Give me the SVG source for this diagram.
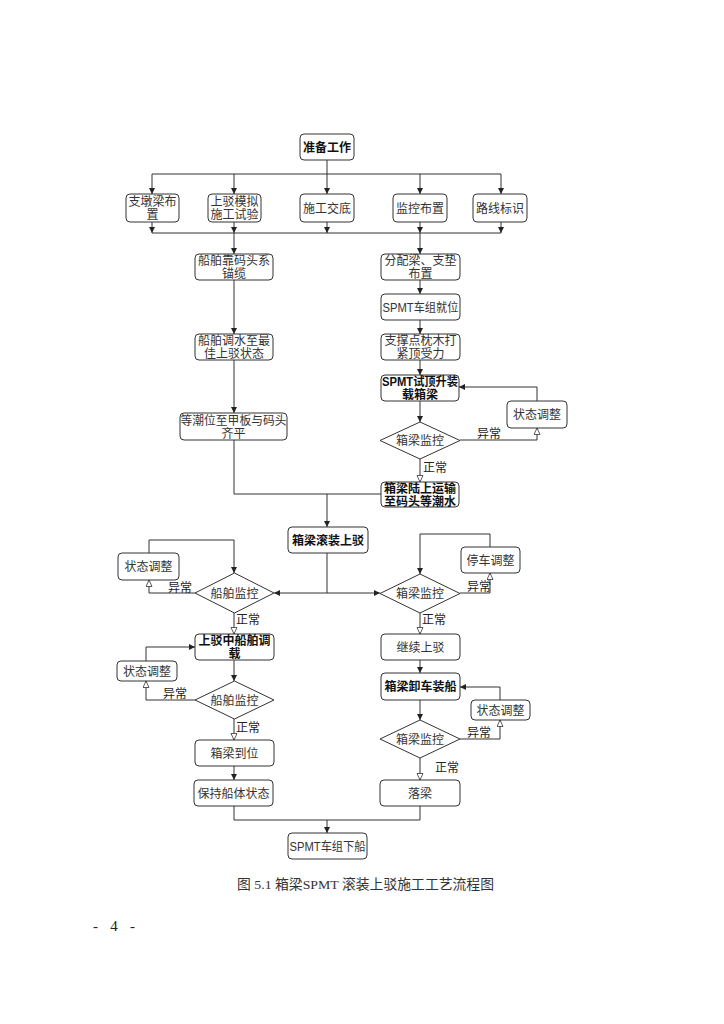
<svg xmlns="http://www.w3.org/2000/svg" width="724" height="1024" viewBox="0 0 724 1024">
<style>
.b{fill:#fff;stroke:#333;stroke-width:1}
.t{font-family:"Liberation Sans","Noto Sans CJK SC",sans-serif;font-size:12px;fill:#333;text-anchor:middle}
.tb{font-family:"Liberation Sans","Noto Sans CJK SC",sans-serif;font-size:12px;fill:#111;font-weight:bold;text-anchor:middle}
.l{font-family:"Liberation Sans","Noto Sans CJK SC",sans-serif;font-size:12px;fill:#222}
.c{fill:none;stroke:#333;stroke-width:1}
.f{marker-end:url(#af)}
.h{marker-end:url(#ah)}
</style>
<defs>
<marker id="af" markerUnits="userSpaceOnUse" markerWidth="8" markerHeight="8" refX="6" refY="3" orient="auto"><path d="M0,0 L6,3 L0,6 z" fill="#222"/></marker>
<marker id="ah" markerUnits="userSpaceOnUse" markerWidth="9" markerHeight="9" refX="7" refY="3.5" orient="auto"><path d="M0.5,0.5 L7,3.5 L0.5,6.5 z" fill="#fff" stroke="#333" stroke-width="0.8"/></marker>
</defs>
<rect width="724" height="1024" fill="#fff"/>

<g id="connectors">
<path class="c" d="M327,160 V174 M152,174 H501"/>
<path class="c f" d="M152,174 V194"/>
<path class="c f" d="M234,174 V194"/>
<path class="c f" d="M327,174 V194"/>
<path class="c f" d="M420,174 V194"/>
<path class="c f" d="M501,174 V194"/>
<path class="c f" d="M152,222 V233"/>
<path class="c f" d="M234,222 V233"/>
<path class="c f" d="M327,222 V233"/>
<path class="c f" d="M420,222 V233"/>
<path class="c f" d="M501,222 V233"/>
<path class="c" d="M152,233 H501"/>
<path class="c f" d="M234,233 V254"/>
<path class="c f" d="M420,233 V254"/>
<path class="c f" d="M234,280 V334"/>
<path class="c f" d="M234,360 V413"/>
<path class="c" d="M234,440 V494 H381"/>
<path class="c f" d="M327,494 V527"/>
<path class="c f" d="M420,280 V294"/>
<path class="c f" d="M420,320 V334"/>
<path class="c f" d="M420,360 V375"/>
<path class="c f" d="M420,401 V422"/>
<path class="c h" d="M460,440 H537 V428"/>
<path class="c f" d="M537,401 V387 H459"/>
<path class="c h" d="M420,459 V482"/>
<path class="c" d="M327,553 V593"/>
<path class="c f" d="M327,593 H274"/>
<path class="c f" d="M327,593 H380"/>
<path class="c h" d="M195,593 H149 V580"/>
<path class="c f" d="M149,553 V540 H234 V573"/>
<path class="c h" d="M234,613 V634"/>
<path class="c f" d="M234,660 V681"/>
<path class="c h" d="M195,700 H146 V681"/>
<path class="c f" d="M146,661 V647 H195"/>
<path class="c h" d="M234,719 V740"/>
<path class="c f" d="M234,766 V780"/>
<path class="c h" d="M460,593 H490 V573"/>
<path class="c f" d="M490,547 V534 H420 V574"/>
<path class="c h" d="M420,613 V634"/>
<path class="c f" d="M420,660 V673"/>
<path class="c f" d="M420,700 V720"/>
<path class="c h" d="M460,739 H500 V720"/>
<path class="c f" d="M500,700 V687 H460"/>
<path class="c h" d="M420,758 V780"/>
<path class="c" d="M234,806 V820 H420 V806"/>
<path class="c f" d="M327,820 V833"/>
<text class="l" x="477" y="438">异常</text>
<text class="l" x="423" y="472">正常</text>
<text class="l" x="168" y="592">异常</text>
<text class="l" x="236" y="624">正常</text>
<text class="l" x="467" y="591">异常</text>
<text class="l" x="422" y="624">正常</text>
<text class="l" x="163" y="698">异常</text>
<text class="l" x="236" y="732">正常</text>
<text class="l" x="467" y="737">异常</text>
<text class="l" x="435" y="772">正常</text>
</g>

<g id="n_zhunbei"><rect class="b" x="300" y="134" width="54" height="26" rx="4"/><text class="tb" x="327" y="151.5">准备工作</text></g>
<g id="n_zhidun"><rect class="b" x="126" y="194" width="53" height="28" rx="4"/><text class="t" x="152.5" y="206">支墩梁布</text><text class="t" x="152.5" y="219">置</text></g>
<g id="n_moni"><rect class="b" x="208" y="194" width="53" height="28" rx="4"/><text class="t" x="234.5" y="206">上驳模拟</text><text class="t" x="234.5" y="219">施工试验</text></g>
<g id="n_jiaodi"><rect class="b" x="300" y="194" width="54" height="28" rx="4"/><text class="t" x="327" y="212.5">施工交底</text></g>
<g id="n_jiankong"><rect class="b" x="393" y="194" width="54" height="28" rx="4"/><text class="t" x="420" y="212.5">监控布置</text></g>
<g id="n_luxian"><rect class="b" x="473" y="194" width="54" height="28" rx="4"/><text class="t" x="500" y="212.5">路线标识</text></g>

<g id="n_kaomatou"><rect class="b" x="195" y="254" width="78" height="26" rx="4"/><text class="t" x="234" y="265">船舶靠码头系</text><text class="t" x="234" y="278">锚缆</text></g>
<g id="n_fenpei"><rect class="b" x="381" y="254" width="79" height="26" rx="4"/><text class="t" x="420.5" y="265">分配梁、支垫</text><text class="t" x="420.5" y="278">布置</text></g>
<g id="n_jiuwei"><rect class="b" x="381" y="294" width="79" height="26" rx="4"/><text class="t" x="420.5" y="311.5" textLength="76" lengthAdjust="spacingAndGlyphs">SPMT车组就位</text></g>
<g id="n_tiaoshui"><rect class="b" x="195" y="334" width="78" height="26" rx="4"/><text class="t" x="234" y="345">船舶调水至最</text><text class="t" x="234" y="358">佳上驳状态</text></g>
<g id="n_zhicheng"><rect class="b" x="381" y="334" width="79" height="26" rx="4"/><text class="t" x="420.5" y="345">支撑点枕木打</text><text class="t" x="420.5" y="358">紧顶受力</text></g>
<g id="n_shiding"><rect class="b" x="381" y="375" width="78" height="26" rx="4"/><text class="tb" x="420" y="386" textLength="76" lengthAdjust="spacingAndGlyphs">SPMT试顶升装</text><text class="tb" x="420" y="399">载箱梁</text></g>
<g id="n_dengchao"><rect class="b" x="180" y="413" width="107" height="27" rx="4"/><text class="t" x="233.5" y="425" textLength="106" lengthAdjust="spacingAndGlyphs">等潮位至甲板与码头</text><text class="t" x="233.5" y="438">齐平</text></g>
<g id="n_zt1"><rect class="b" x="507" y="401" width="60" height="27" rx="4"/><text class="t" x="537" y="419">状态调整</text></g>
<g id="n_jk1"><polygon class="b" points="420,422 460,440.5 420,459 380,440.5"/><text class="t" x="420" y="445">箱梁监控</text></g>
<g id="n_yunshu"><rect class="b" x="381" y="482" width="78" height="25" rx="4"/><text class="tb" x="420" y="493">箱梁陆上运输</text><text class="tb" x="420" y="506">至码头等潮水</text></g>

<g id="n_gunzhuang"><rect class="b" x="288" y="527" width="80" height="26" rx="4"/><text class="tb" x="328" y="544.5">箱梁滚装上驳</text></g>
<g id="n_zt2"><rect class="b" x="118" y="553" width="61" height="27" rx="4"/><text class="t" x="148.5" y="571">状态调整</text></g>
<g id="n_cb1"><polygon class="b" points="234.5,573 274,593 234.5,613 195,593"/><text class="t" x="234.5" y="597.5">船舶监控</text></g>
<g id="n_tingche"><rect class="b" x="461" y="547" width="59" height="26" rx="4"/><text class="t" x="490.5" y="564.5">停车调整</text></g>
<g id="n_jk2"><polygon class="b" points="420,574 460,593.5 420,613 380,593.5"/><text class="t" x="420" y="598">箱梁监控</text></g>
<g id="n_tiaozai"><rect class="b" x="195" y="634" width="79" height="26" rx="4"/><text class="tb" x="234.5" y="645">上驳中船舶调</text><text class="tb" x="234.5" y="658">载</text></g>
<g id="n_jixu"><rect class="b" x="381" y="634" width="79" height="26" rx="4"/><text class="t" x="420.5" y="651.5">继续上驳</text></g>
<g id="n_zt3"><rect class="b" x="117" y="661" width="60" height="20" rx="4"/><text class="t" x="147" y="675.5">状态调整</text></g>
<g id="n_xieche"><rect class="b" x="381" y="673" width="79" height="27" rx="4"/><text class="tb" x="420.5" y="691">箱梁卸车装船</text></g>
<g id="n_cb2"><polygon class="b" points="234.5,681 274,700 234.5,719 195,700"/><text class="t" x="234.5" y="704.5">船舶监控</text></g>
<g id="n_zt4"><rect class="b" x="471" y="700" width="59" height="20" rx="4"/><text class="t" x="500.5" y="714.5">状态调整</text></g>
<g id="n_jk3"><polygon class="b" points="420,720 460,739 420,758 380,739"/><text class="t" x="420" y="743.5">箱梁监控</text></g>
<g id="n_daowei"><rect class="b" x="195" y="740" width="79" height="26" rx="4"/><text class="t" x="234.5" y="757.5">箱梁到位</text></g>
<g id="n_baochi"><rect class="b" x="194" y="780" width="79" height="26" rx="4"/><text class="t" x="233.5" y="797.5">保持船体状态</text></g>
<g id="n_luoliang"><rect class="b" x="380" y="780" width="80" height="26" rx="4"/><text class="t" x="420" y="797.5">落梁</text></g>
<g id="n_xiachuan"><rect class="b" x="288" y="833" width="79" height="26" rx="4"/><text class="t" x="327.5" y="850.5" textLength="76" lengthAdjust="spacingAndGlyphs">SPMT车组下船</text></g>

<text x="237" y="889" font-family="'Liberation Serif','Noto Sans CJK SC',serif" font-size="13.5" fill="#333" textLength="257" lengthAdjust="spacingAndGlyphs">图 5.1 箱梁SPMT 滚装上驳施工工艺流程图</text>
<text x="93" y="931" font-family="'Liberation Serif','Noto Sans CJK SC',serif" font-size="15" fill="#222" textLength="42" lengthAdjust="spacing">- 4 -</text>
</svg>
